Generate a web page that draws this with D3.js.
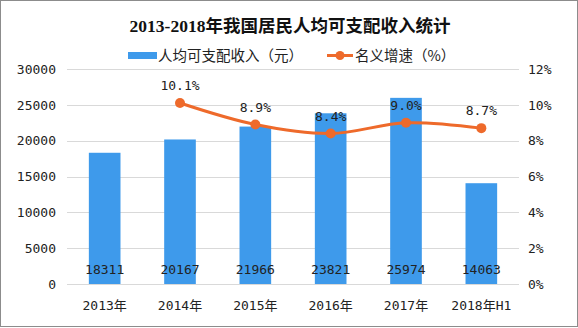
<!DOCTYPE html>
<html>
<head>
<meta charset="utf-8">
<script src="https://cdn.jsdelivr.net/npm/d3@7"></script>
<style>
  html, body { margin: 0; padding: 0; background: #fff; }
  svg { display: block; }
</style>
</head>
<body>
<svg id="chart" width="578" height="328"></svg>
<script>
// Per-capita disposable income of residents, 2013–2018H1
const categories = ["2013年", "2014年", "2015年", "2016年", "2017年", "2018年H1"];
const income = [18311, 20167, 21966, 23821, 25974, 14063];
const growth = [null, 10.1, 8.9, 8.4, 9.0, 8.7];
const leftTicks = [0, 5000, 10000, 15000, 20000, 25000, 30000];
const rightTicks = [0, 2, 4, 6, 8, 10, 12];

const W = 578, H = 328;
const margin = { top: 69, right: 70, bottom: 44, left: 67 };
const blue = "#3E9AEB";
const orange = "#EE6A2B";
const numFont = "'DejaVu Sans Mono', monospace";
const cjkFont = "'DejaVu Sans Mono', 'Noto Sans CJK SC', sans-serif";

const svg = d3.select("#chart");

// outer frame
svg.append("rect")
  .attr("x", 0.5).attr("y", 0.5)
  .attr("width", W - 1).attr("height", H - 2)
  .attr("fill", "#fff").attr("stroke", "#8c8c8c");

const x0 = margin.left, x1 = W - margin.right + 11;

const x = d3.scaleBand()
  .domain(categories)
  .range([x0, x1])
  .paddingInner(0.58).paddingOuter(0.29);

const yL = d3.scaleLinear().domain([0, 30000]).range([H - margin.bottom, margin.top]);
const yR = d3.scaleLinear().domain([0, 12]).range([H - margin.bottom, margin.top]);

// horizontal gridlines
svg.append("g").selectAll("line").data(leftTicks).join("line")
  .attr("x1", x0).attr("x2", x1)
  .attr("y1", d => Math.round(yL(d)) + 0.5).attr("y2", d => Math.round(yL(d)) + 0.5)
  .attr("stroke", "#d9d9d9").attr("stroke-width", 1);

// left axis labels
const axL = svg.append("g")
  .attr("transform", `translate(${x0 - 11},0)`)
  .call(d3.axisLeft(yL).tickValues(leftTicks).tickSize(0).tickPadding(0).tickFormat(d3.format("d")));
axL.select(".domain").remove();
axL.selectAll("text").attr("font-family", numFont).attr("font-size", 13).attr("fill", "#222");

// right axis labels
const axR = svg.append("g")
  .attr("transform", `translate(${x1 + 9},0)`)
  .call(d3.axisRight(yR).tickValues(rightTicks).tickSize(0).tickPadding(0).tickFormat(d => d + "%"));
axR.select(".domain").remove();
axR.selectAll("text").attr("font-family", numFont).attr("font-size", 13).attr("fill", "#222");

// bottom axis labels
const axB = svg.append("g")
  .attr("transform", `translate(0,${H - margin.bottom})`)
  .call(d3.axisBottom(x).tickSize(0).tickPadding(17));
axB.select(".domain").remove();
axB.selectAll("text").attr("font-family", cjkFont).attr("font-size", 13).attr("fill", "#222");

// bars
svg.append("g").selectAll("rect").data(income).join("rect")
  .attr("x", (d, i) => x(categories[i]))
  .attr("y", d => yL(d))
  .attr("width", x.bandwidth())
  .attr("height", d => yL(0) - yL(d))
  .attr("fill", blue);

// bar value labels
svg.append("g").selectAll("text").data(income).join("text")
  .attr("x", (d, i) => x(categories[i]) + x.bandwidth() / 2)
  .attr("y", yL(0) - 10)
  .attr("text-anchor", "middle")
  .attr("font-family", numFont).attr("font-size", 13).attr("fill", "#222")
  .text(d => d);

// growth line
const pts = growth.map((v, i) => ({ v, c: categories[i] })).filter(d => d.v != null);
const cx = d => x(d.c) + x.bandwidth() / 2;
const line = d3.line()
  .x(cx).y(d => yR(d.v))
  .curve(d3.curveCatmullRom.alpha(0.5));

svg.append("path").datum(pts)
  .attr("d", line)
  .attr("fill", "none").attr("stroke", orange).attr("stroke-width", 3)
  .attr("stroke-linecap", "round");

svg.append("g").selectAll("circle").data(pts).join("circle")
  .attr("cx", cx).attr("cy", d => yR(d.v)).attr("r", 5)
  .attr("fill", orange);

svg.append("g").selectAll("text").data(pts).join("text")
  .attr("x", cx).attr("y", d => yR(d.v) - 13)
  .attr("text-anchor", "middle")
  .attr("font-family", numFont).attr("font-size", 13).attr("fill", "#222")
  .text(d => d.v.toFixed(1) + "%");

// title
svg.append("text")
  .attr("x", 290).attr("y", 32)
  .attr("text-anchor", "middle")
  .attr("font-family", "'Liberation Serif', 'Noto Sans CJK SC', serif")
  .attr("font-weight", "bold").attr("font-size", 17.5).attr("fill", "#111")
  .text("2013-2018年我国居民人均可支配收入统计");

// legend
const lg = svg.append("g");
lg.append("rect").attr("x", 128).attr("y", 52).attr("width", 29).attr("height", 7).attr("fill", blue);
lg.append("text").attr("x", 158).attr("y", 61)
  .attr("font-family", "'Noto Sans CJK SC', sans-serif").attr("font-size", 14.5).attr("fill", "#222")
  .text("人均可支配收入（元）");
lg.append("line").attr("x1", 327).attr("x2", 353).attr("y1", 55.5).attr("y2", 55.5)
  .attr("stroke", orange).attr("stroke-width", 3);
lg.append("circle").attr("cx", 340).attr("cy", 55.5).attr("r", 4.5).attr("fill", orange);
lg.append("text").attr("x", 355).attr("y", 61)
  .attr("font-family", "'Noto Sans CJK SC', sans-serif").attr("font-size", 14.5).attr("fill", "#222")
  .text("名义增速（%）");
</script>
</body>
</html>
